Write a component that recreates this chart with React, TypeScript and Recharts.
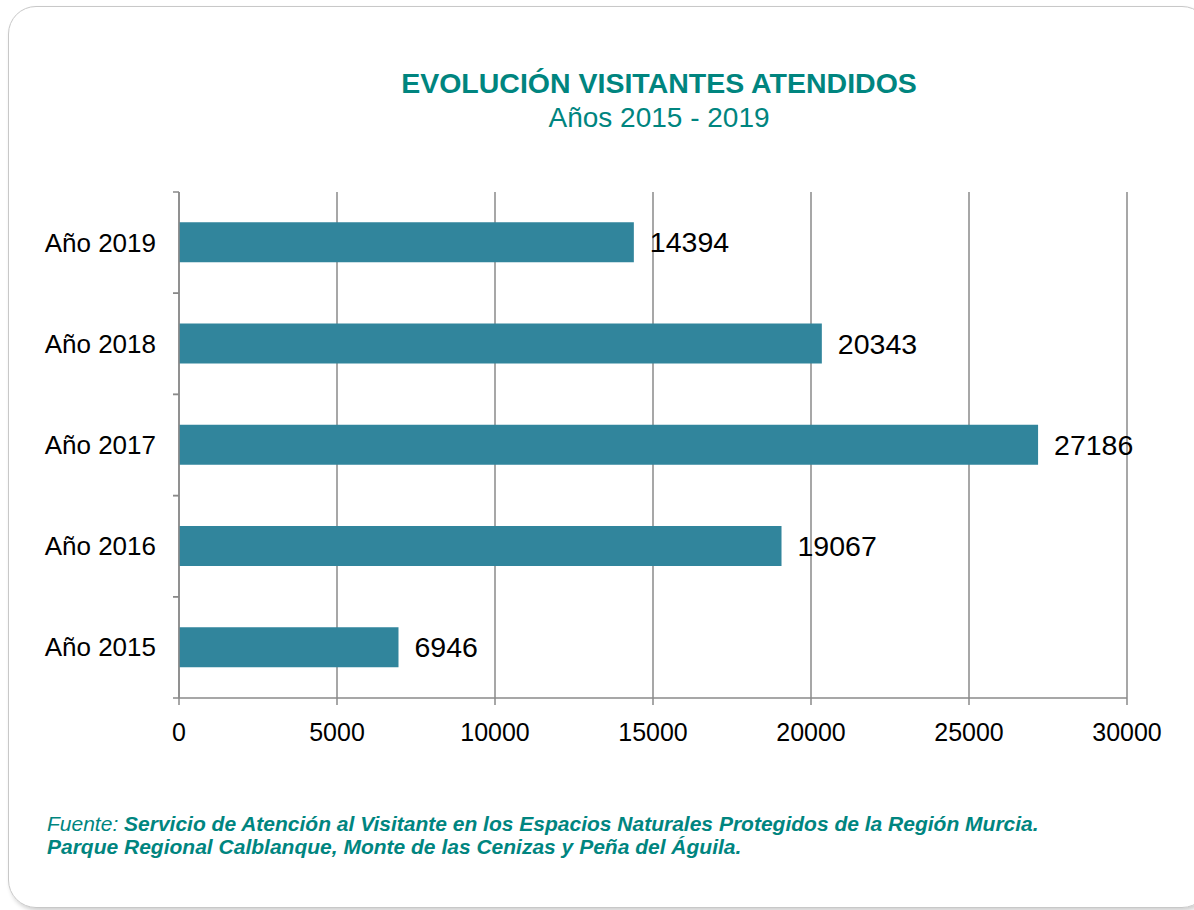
import { BarChart, Bar, XAxis, YAxis, CartesianGrid, LabelList } from 'recharts';

const years = ['Año 2015', 'Año 2016', 'Año 2017', 'Año 2018', 'Año 2019'];
const visitantes = [6946, 19067, 27186, 20343, 14394];
const xTicks = [0, 5000, 10000, 15000, 20000, 25000, 30000];

const data = years.map((name, i) => ({ name, visitantes: visitantes[i] }));

const FONT = '"Liberation Sans", Arial, sans-serif';
const TEAL = '#00857F';
const AXIS = '#8a8a8a';
const TICK_SIZE = 6;
const TICK_MARGIN = 17;

// category ticks sit on the band edges, labels in the middle
function YTick(props: any) {
  const { x, y, payload } = props;
  const half = payload && payload.offset ? payload.offset : 0;
  const ax = x + TICK_MARGIN + TICK_SIZE;
  return (
    <g>
      <line x1={ax - TICK_SIZE} x2={ax} y1={y - half} y2={y - half} stroke={AXIS} strokeWidth={1.5} />
      <line x1={ax - TICK_SIZE} x2={ax} y1={y + half} y2={y + half} stroke={AXIS} strokeWidth={1.5} />
      <text x={x} y={y} textAnchor="end" dominantBaseline="central" fontSize={26} fill="#000" fontFamily={FONT}>
        {payload.value}
      </text>
    </g>
  );
}

export default function App() {
  return (
    <div style={{ position: 'absolute', left: 0, top: 0, width: 1194, height: 910, overflow: 'hidden', background: '#fff', fontFamily: FONT }}>
      <div
        style={{
          position: 'absolute', left: 8, top: 6, width: 1200, height: 900,
          border: '1px solid #c8c8c8', borderRadius: 28, boxShadow: '2px 3px 4px rgba(0,0,0,0.18)',
        }}
      />
      <div style={{ position: 'absolute', left: 0, width: 1318, top: 66, textAlign: 'center', color: TEAL }}>
        <div style={{ fontSize: 28.5, fontWeight: 'bold', lineHeight: '34px' }}>EVOLUCIÓN VISITANTES ATENDIDOS</div>
        <div style={{ fontSize: 28, lineHeight: '36px' }}>Años 2015 - 2019</div>
      </div>
      <div style={{ position: 'absolute', left: 0, top: 0 }}>
        <BarChart
          width={1194}
          height={910}
          data={data}
          layout="vertical"
          margin={{ top: 192, right: 67, bottom: 172, left: 0 }}
          barCategoryGap="30%"
        >
          <CartesianGrid horizontal={false} stroke={AXIS} strokeWidth={1.5} />
          <XAxis
            type="number"
            domain={[0, 30000]}
            ticks={xTicks}
            height={40}
            tickSize={7}
            tickMargin={18}
            axisLine={{ stroke: AXIS, strokeWidth: 1.5 }}
            tickLine={{ stroke: AXIS, strokeWidth: 1.5 }}
            tick={{ fill: '#000', fontSize: 25, fontFamily: FONT }}
            interval={0}
          />
          <YAxis
            type="category"
            dataKey="name"
            reversed
            width={179}
            tickSize={TICK_SIZE}
            tickMargin={TICK_MARGIN}
            tickLine={false}
            axisLine={{ stroke: AXIS, strokeWidth: 1.5 }}
            tick={<YTick />}
            interval={0}
          />
          <Bar dataKey="visitantes" fill="#31859C" isAnimationActive={false}>
            <LabelList dataKey="visitantes" position="right" offset={16} fill="#000" fontSize={28.5} fontFamily={FONT} />
          </Bar>
        </BarChart>
      </div>
      <div style={{ position: 'absolute', left: 47, top: 812, fontSize: 21, lineHeight: '23px', color: TEAL, fontStyle: 'italic' }}>
        <div>
          Fuente: <b>Servicio de Atención al Visitante en los Espacios Naturales Protegidos de la Región Murcia.</b>
        </div>
        <div>
          <b>Parque Regional Calblanque, Monte de las Cenizas y Peña del Águila.</b>
        </div>
      </div>
    </div>
  );
}
